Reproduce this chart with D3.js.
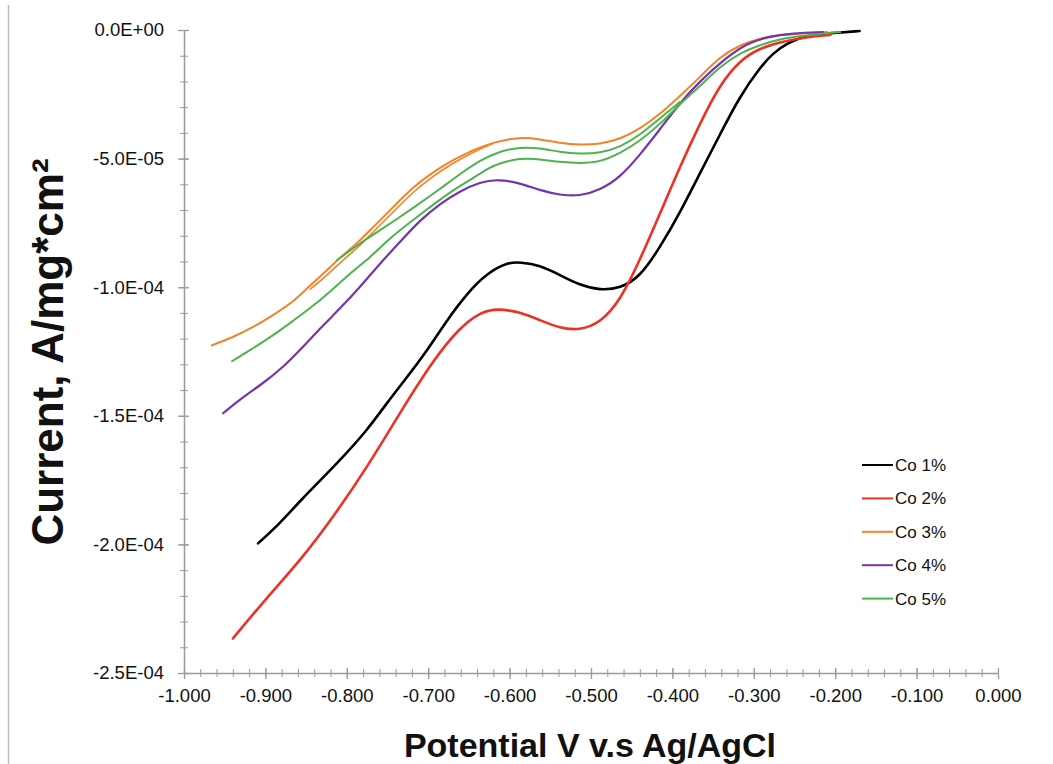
<!DOCTYPE html>
<html>
<head>
<meta charset="utf-8">
<script src="https://cdn.jsdelivr.net/npm/d3@7"></script>
<style>
  html, body { margin: 0; padding: 0; background: #fff; }
  svg { display: block; }
  text { font-family: "Liberation Sans", Arial, sans-serif; }
</style>
</head>
<body>
<svg id="chart" width="1053" height="764"></svg>
<script>
// ---- tick values and labels ----
const xTicks = [-1.0, -0.9, -0.8, -0.7, -0.6, -0.5, -0.4, -0.3, -0.2, -0.1, 0.0];
const xTickLabels = ["-1.000", "-0.900", "-0.800", "-0.700", "-0.600", "-0.500", "-0.400", "-0.300", "-0.200", "-0.100", "0.000"];
const yTicks = [0, -5e-5, -1e-4, -1.5e-4, -2e-4, -2.5e-4];
const yTickLabels = ["0.0E+00", "-5.0E-05", "-1.0E-04", "-1.5E-04", "-2.0E-04", "-2.5E-04"];

// ---- series (potential V vs Ag/AgCl, current A/mg*cm2) ----
const seriesNames = ["Co 1%", "Co 2%", "Co 3%", "Co 4%", "Co 5%"];
const seriesColors = ["#000000", "#ee3124", "#f58128", "#7434ac", "#4db34f"];

const co1V = [-0.909, -0.882, -0.857, -0.824, -0.805, -0.775, -0.751, -0.726, -0.701, -0.677, -0.652, -0.628, -0.602, -0.587, -0.563, -0.538, -0.514, -0.489, -0.464, -0.440, -0.415, -0.391, -0.366, -0.342, -0.317, -0.292, -0.276, -0.259, -0.235, -0.203, -0.170];
const co1I = [-19.96e-5, -19.18e-5, -18.29e-5, -17.24e-5, -16.61e-5, -15.56e-5, -14.51e-5, -13.50e-5, -12.45e-5, -11.28e-5, -10.23e-5, -9.46e-5, -9.03e-5, -9.03e-5, -9.14e-5, -9.53e-5, -9.92e-5, -10.12e-5, -10.04e-5, -9.61e-5, -8.44e-5, -7.12e-5, -5.56e-5, -4.09e-5, -2.57e-5, -1.44e-5, -0.89e-5, -0.51e-5, -0.19e-5, -0.12e-5, -0.04e-5];

const co2V = [-0.940, -0.898, -0.857, -0.817, -0.775, -0.735, -0.694, -0.661, -0.636, -0.615, -0.587, -0.563, -0.538, -0.514, -0.489, -0.464, -0.440, -0.415, -0.391, -0.366, -0.342, -0.317, -0.292, -0.268, -0.235, -0.206];
const co2I = [-23.66e-5, -22.06e-5, -20.62e-5, -18.95e-5, -17.00e-5, -14.90e-5, -12.84e-5, -11.56e-5, -10.97e-5, -10.82e-5, -10.97e-5, -11.28e-5, -11.60e-5, -11.67e-5, -11.40e-5, -10.51e-5, -8.95e-5, -7.12e-5, -5.33e-5, -3.62e-5, -2.14e-5, -1.17e-5, -0.70e-5, -0.47e-5, -0.27e-5, -0.19e-5];

const co3V = [-0.966, -0.940, -0.915, -0.891, -0.866, -0.845, -0.824, -0.808, -0.787, -0.768, -0.743, -0.719, -0.694, -0.670, -0.645, -0.620, -0.587, -0.563, -0.538, -0.514, -0.489, -0.464, -0.440, -0.415, -0.391, -0.366, -0.342, -0.317, -0.292, -0.268, -0.235, -0.210];
const co3I = [-12.26e-5, -11.95e-5, -11.56e-5, -11.09e-5, -10.58e-5, -9.92e-5, -9.34e-5, -8.83e-5, -8.29e-5, -7.67e-5, -6.89e-5, -6.11e-5, -5.53e-5, -5.06e-5, -4.67e-5, -4.36e-5, -4.16e-5, -4.24e-5, -4.40e-5, -4.47e-5, -4.44e-5, -4.24e-5, -3.85e-5, -3.27e-5, -2.57e-5, -1.83e-5, -1.05e-5, -0.58e-5, -0.31e-5, -0.19e-5, -0.12e-5, -0.08e-5];
const co3bV = [-0.845, -0.824, -0.808, -0.787, -0.768, -0.743, -0.719, -0.694, -0.670, -0.645, -0.620];
const co3bI = [-10.08e-5, -9.53e-5, -9.03e-5, -8.48e-5, -7.86e-5, -7.08e-5, -6.30e-5, -5.68e-5, -5.18e-5, -4.75e-5, -4.40e-5];

const co4V = [-0.952, -0.928, -0.903, -0.878, -0.854, -0.829, -0.808, -0.784, -0.759, -0.735, -0.710, -0.686, -0.661, -0.636, -0.615, -0.587, -0.563, -0.538, -0.514, -0.489, -0.464, -0.440, -0.415, -0.391, -0.366, -0.333, -0.308, -0.284, -0.252, -0.215];
const co4I = [-14.90e-5, -14.28e-5, -13.74e-5, -13.11e-5, -12.33e-5, -11.48e-5, -10.82e-5, -10.00e-5, -9.07e-5, -8.25e-5, -7.39e-5, -6.77e-5, -6.26e-5, -5.91e-5, -5.80e-5, -5.95e-5, -6.23e-5, -6.42e-5, -6.46e-5, -6.23e-5, -5.72e-5, -4.86e-5, -3.85e-5, -2.84e-5, -1.98e-5, -1.05e-5, -0.51e-5, -0.27e-5, -0.12e-5, -0.08e-5];

const co5V = [-0.941, -0.919, -0.894, -0.870, -0.845, -0.821, -0.796, -0.771, -0.747, -0.722, -0.698, -0.673, -0.649, -0.624, -0.612, -0.587, -0.563, -0.538, -0.514, -0.489, -0.464, -0.440, -0.415, -0.391, -0.366, -0.342, -0.317, -0.292, -0.268, -0.243, -0.210, -0.194];
const co5I = [-12.88e-5, -12.45e-5, -11.95e-5, -11.40e-5, -10.82e-5, -10.19e-5, -9.46e-5, -8.83e-5, -8.09e-5, -7.47e-5, -6.89e-5, -6.30e-5, -5.84e-5, -5.33e-5, -5.18e-5, -4.98e-5, -5.02e-5, -5.14e-5, -5.18e-5, -5.14e-5, -4.79e-5, -4.32e-5, -3.66e-5, -2.88e-5, -2.18e-5, -1.44e-5, -0.89e-5, -0.58e-5, -0.35e-5, -0.23e-5, -0.12e-5, -0.08e-5];
const co5bV = [-0.812, -0.784, -0.759, -0.735, -0.710, -0.686, -0.661, -0.636, -0.612, -0.587, -0.563, -0.538, -0.514, -0.489, -0.464, -0.440, -0.415, -0.391];
const co5bI = [-8.95e-5, -8.29e-5, -7.78e-5, -7.28e-5, -6.73e-5, -6.19e-5, -5.60e-5, -5.06e-5, -4.71e-5, -4.55e-5, -4.59e-5, -4.75e-5, -4.82e-5, -4.79e-5, -4.55e-5, -4.09e-5, -3.42e-5, -2.80e-5];

// traces: [V array, I array, series index, width]
const traces = [
  [co1V, co1I, 0, 2.6],
  [co2V, co2I, 1, 2.6],
  [co3V, co3I, 2, 2.0],
  [co3bV, co3bI, 2, 1.6],
  [co4V, co4I, 3, 2.2],
  [co5V, co5I, 4, 2.0],
  [co5bV, co5bI, 4, 2.0]
];

const svg = d3.select("#chart");

// thin frame line at left edge
svg.append("line").attr("x1", 8.5).attr("x2", 8.5).attr("y1", 5).attr("y2", 764)
  .attr("stroke", "#bdbdbd").attr("stroke-width", 1.5);

const x = d3.scaleLinear().domain([-1, 0]).range([184, 998]);
const y = d3.scaleLinear().domain([0, -2.5e-4]).range([30, 673]);

const axisColor = "#9a9a9a";

// minor ticks
const xMinor = d3.range(0, 51).map(i => -1 + i * 0.02);
const yMinor = d3.range(0, 26).map(i => -i * 1e-5);

const gxMinor = svg.append("g").attr("transform", `translate(0,${y(-2.5e-4)})`)
  .call(d3.axisBottom(x).tickValues(xMinor).tickFormat("").tickSizeOuter(0));
gxMinor.select(".domain").remove();
gxMinor.selectAll("line").attr("y1", -4).attr("y2", 4).attr("stroke", axisColor);

const gyMinor = svg.append("g").attr("transform", `translate(${x(-1)},0)`)
  .call(d3.axisLeft(y).tickValues(yMinor).tickFormat("").tickSizeOuter(0));
gyMinor.select(".domain").remove();
gyMinor.selectAll("line").attr("x1", -4).attr("x2", 4).attr("stroke", axisColor);

// major axes
const gx = svg.append("g").attr("transform", `translate(0,${y(-2.5e-4)})`)
  .call(d3.axisBottom(x).tickValues(xTicks).tickFormat((d, i) => xTickLabels[i]).tickSizeOuter(0).tickPadding(10));
gx.select(".domain").attr("stroke", axisColor).attr("stroke-width", 1.5);
gx.selectAll("line").attr("y1", -5).attr("y2", 6).attr("stroke", axisColor).attr("stroke-width", 1.3);
gx.selectAll("text").attr("font-size", 18.5).attr("fill", "#111").attr("font-family", "Liberation Sans, Arial, sans-serif");

const gy = svg.append("g").attr("transform", `translate(${x(-1)},0)`)
  .call(d3.axisLeft(y).tickValues(yTicks).tickFormat((d, i) => yTickLabels[i]).tickSizeOuter(0).tickPadding(14));
gy.select(".domain").attr("stroke", axisColor).attr("stroke-width", 1.5);
gy.selectAll("line").attr("x1", -6).attr("x2", 5).attr("stroke", axisColor).attr("stroke-width", 1.3);
gy.selectAll("text").attr("font-size", 18.5).attr("fill", "#111").attr("font-family", "Liberation Sans, Arial, sans-serif");

// curves (smooth)
const line = d3.line().x(d => x(d[0])).y(d => y(d[1])).curve(d3.curveBasis);
traces.forEach(([vs, is, si, w]) => {
  const pts = vs.map((v, i) => [v, is[i]]);
  svg.append("path").datum(pts).attr("d", line)
    .attr("fill", "none").attr("stroke", seriesColors[si]).attr("stroke-width", w)
    .attr("stroke-linejoin", "round").attr("stroke-linecap", "round");
});

// legend
const legend = svg.append("g").attr("transform", "translate(862,465)");
seriesNames.forEach((name, i) => {
  const g = legend.append("g").attr("transform", `translate(0,${i * 33.4})`);
  g.append("line").attr("x1", 0).attr("x2", 31).attr("y1", 0).attr("y2", 0)
    .attr("stroke", seriesColors[i]).attr("stroke-width", 2);
  g.append("text").attr("x", 33).attr("y", 0).attr("dy", "0.35em")
    .attr("font-size", 17).attr("fill", "#111").text(name);
});

// axis titles
svg.append("text").attr("x", 590).attr("y", 757).attr("text-anchor", "middle")
  .attr("font-size", 34).attr("font-weight", "bold").attr("fill", "#111")
  .text("Potential V v.s Ag/AgCl");

svg.append("text").attr("transform", "translate(63,352) rotate(-90)").attr("text-anchor", "middle")
  .attr("font-size", 44).attr("font-weight", "bold").attr("fill", "#111")
  .text("Current, A/mg*cm²");
</script>
</body>
</html>
